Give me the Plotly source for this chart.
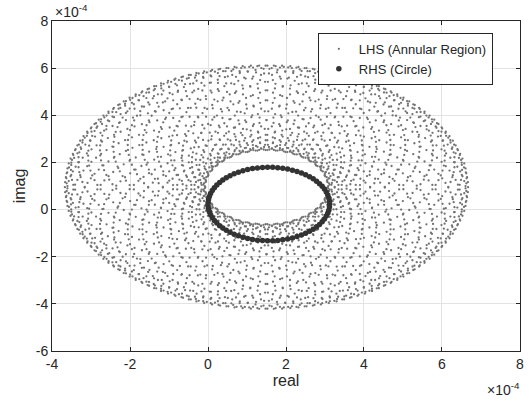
import numpy as np
import plotly.graph_objects as go

# ---- data (units of 1e-4) ----
# LHS annular region: sum of two sampled circles (centre, radii, sample counts)
lhs_center = [1.50, 0.95]
lhs_radii = [3.37, 1.80]
lhs_samples = [100, 30]
# RHS circle
rhs_center = [1.56, 0.235]
rhs_radius = 1.56
rhs_samples = 75

x_ticks = [-4, -2, 0, 2, 4, 6, 8]
y_ticks = [-6, -4, -2, 0, 2, 4, 6, 8]
scale = 1e-4

# ---- build marks ----
t1 = np.arange(lhs_samples[0]) * 2 * np.pi / lhs_samples[0]
t2 = np.arange(lhs_samples[1]) * 2 * np.pi / lhs_samples[1]
T1, T2 = np.meshgrid(t1, t2)
lhs_z = (lhs_center[0] + 1j * lhs_center[1]
         + lhs_radii[0] * np.exp(1j * T1) + lhs_radii[1] * np.exp(1j * T2)).ravel() * scale
ph = np.arange(rhs_samples) * 2 * np.pi / rhs_samples
rhs_z = (rhs_center[0] + 1j * rhs_center[1] + rhs_radius * np.exp(1j * ph)) * scale

FONT = "Liberation Sans, Arial, Helvetica"
INK = "#262626"

fig = go.Figure()
fig.add_trace(go.Scatter(x=lhs_z.real, y=lhs_z.imag, mode="markers",
                         name="LHS (Annular Region)",
                         marker=dict(size=2.3, color="#737373", line=dict(width=0))))
fig.add_trace(go.Scatter(x=rhs_z.real, y=rhs_z.imag, mode="markers",
                         name="RHS (Circle)",
                         marker=dict(size=5.5, color="#333333", line=dict(width=0))))

axis_common = dict(showgrid=True, gridcolor="#e3e3e3", gridwidth=1,
                   zeroline=False, showline=True, linecolor=INK, linewidth=1,
                   mirror="ticks", ticks="inside", ticklen=4, tickcolor=INK,
                   automargin=False,
                   tickfont=dict(family=FONT, size=14, color=INK))

eps = 0.0005
fig.update_xaxes(range=[(x_ticks[0] - eps) * scale, (x_ticks[-1] + eps) * scale],
                 tickvals=[v * scale for v in x_ticks], ticktext=[str(v) for v in x_ticks],
                 title=dict(text="real", font=dict(family=FONT, size=16, color=INK), standoff=2),
                 **axis_common)
fig.update_yaxes(range=[(y_ticks[0] - eps) * scale, (y_ticks[-1] + eps) * scale],
                 tickvals=[v * scale for v in y_ticks], ticktext=[str(v) for v in y_ticks],
                 title=dict(text="imag", font=dict(family=FONT, size=16, color=INK), standoff=6),
                 **axis_common)

fig.update_layout(
    width=529, height=401,
    margin=dict(l=52, r=9, t=21, b=50, autoexpand=False),
    paper_bgcolor="white", plot_bgcolor="white",
    font=dict(family=FONT, color=INK),
    showlegend=True,
    legend=dict(x=0.942, y=0.964, xanchor="right", yanchor="top",
                bgcolor="white", bordercolor=INK, borderwidth=1,
                font=dict(family=FONT, size=13, color=INK),
                itemsizing="trace", tracegroupgap=0),
    annotations=[
        dict(text="×10<sup>-4</sup>", x=0, y=1, xref="paper", yref="paper",
             xanchor="left", yanchor="bottom", showarrow=False, xshift=1, yshift=-1,
             font=dict(family=FONT, size=14, color=INK)),
        dict(text="×10<sup>-4</sup>", x=1, y=0, xref="paper", yref="paper",
             xanchor="right", yanchor="top", showarrow=False, yshift=-27, xshift=2,
             font=dict(family=FONT, size=14, color=INK)),
    ],
)

fig.write_html("out.html", config={"displayModeBar": False},
               post_script="document.body.style.margin='0';document.body.style.overflow='hidden';")
